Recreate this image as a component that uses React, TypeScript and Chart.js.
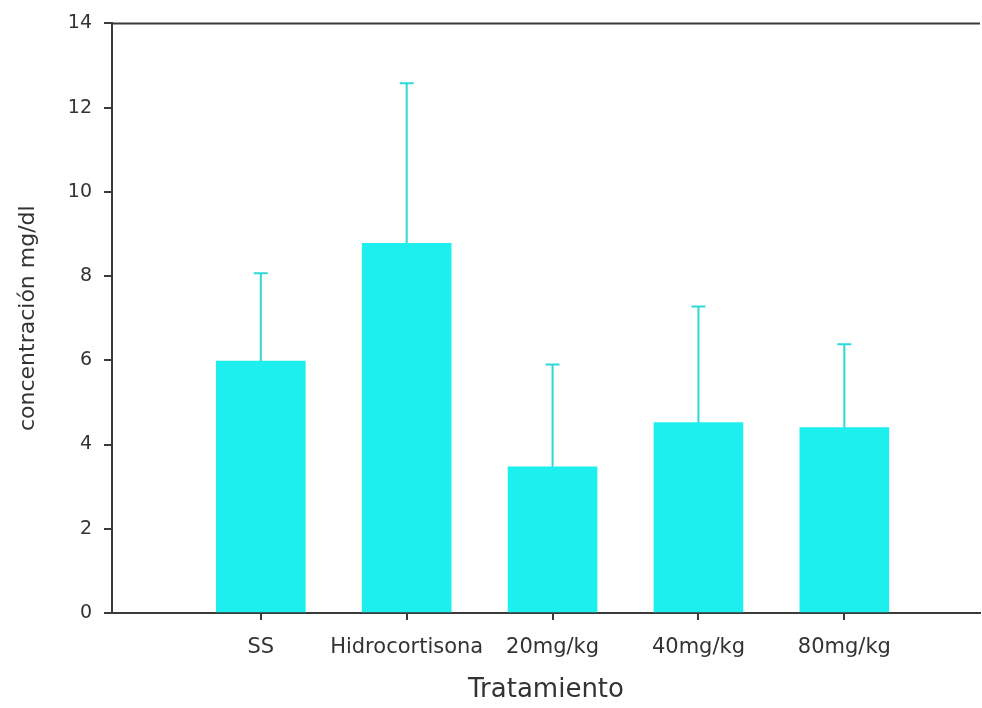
import React, { useEffect, useRef } from "react";
import { Chart, registerables } from "chart.js";

Chart.register(...registerables);

const categories = ["SS", "Hidrocortisona", "20mg/kg", "40mg/kg", "80mg/kg"];
const means = [5.98, 8.78, 3.47, 4.52, 4.4];
const errorsUp = [2.09, 3.8, 2.43, 2.76, 1.98];
const yTicks = [0, 2, 4, 6, 8, 10, 12, 14];

const BAR_COLOR = "#1DEFEF";
const ERR_COLOR = "#2ED8D8";
const AXIS_COLOR = "#3a3a3a";
const FONT = "'DejaVu Sans', Arial, sans-serif";

const errorBarPlugin = {
  id: "errorBars",
  afterDatasetsDraw(chart: any) {
    const ctx = chart.ctx;
    const meta = chart.getDatasetMeta(0);
    const ys = chart.scales.y;
    ctx.save();
    ctx.strokeStyle = ERR_COLOR;
    ctx.lineWidth = 2;
    meta.data.forEach((bar: any, i: number) => {
      const x = bar.x;
      const top = ys.getPixelForValue(means[i] + errorsUp[i]);
      ctx.beginPath();
      ctx.moveTo(x, bar.y);
      ctx.lineTo(x, top);
      ctx.moveTo(x - 7, top);
      ctx.lineTo(x + 7, top);
      ctx.stroke();
    });
    ctx.restore();
  },
};

const topBorderPlugin = {
  id: "topBorder",
  afterDraw(chart: any) {
    const { ctx, chartArea } = chart;
    ctx.save();
    ctx.strokeStyle = AXIS_COLOR;
    ctx.lineWidth = 2;
    ctx.beginPath();
    ctx.moveTo(chartArea.left - 1, chartArea.top);
    ctx.lineTo(chartArea.right, chartArea.top);
    ctx.stroke();
    ctx.restore();
  },
};

export default function App() {
  const ref = useRef<HTMLCanvasElement>(null);
  useEffect(() => {
    if (!ref.current) return;
    const chart = new Chart(ref.current, {
      type: "bar",
      data: {
        datasets: [
          {
            data: means.map((v, i) => ({ x: i, y: v })),
            backgroundColor: BAR_COLOR,
            borderWidth: 0,
            barThickness: 89,
          },
        ],
      },
      options: {
        animation: false,
        responsive: true,
        maintainAspectRatio: false,
        layout: { padding: { top: 20, right: 2, left: 0, bottom: 0 } },
        plugins: { legend: { display: false }, tooltip: { enabled: false } },
        scales: {
          x: {
            type: "linear",
            offset: false,
            min: -1.02,
            max: 4.93,
            afterBuildTicks: (scale: any) => {
              scale.ticks = categories.map((_, i) => ({ value: i }));
            },
            afterFit: (scale: any) => {
              scale.height = 95;
            },
            grid: {
              offset: false,
              drawOnChartArea: false,
              drawTicks: true,
              tickLength: 7,
              color: AXIS_COLOR,
              lineWidth: 2,
            },
            border: { display: true, color: AXIS_COLOR, width: 2 },
            ticks: {
              padding: 15,
              color: "#333",
              font: { family: FONT, size: 21 },
              maxRotation: 0,
              autoSkip: false,
              callback: (v: any) => categories[v] ?? "",
            },
            title: {
              display: true,
              text: "Tratamiento",
              color: "#333",
              font: { family: FONT, size: 26 },
              padding: { top: 4, bottom: 2 },
            },
          },
          y: {
            min: 0,
            max: 14,
            afterBuildTicks: (scale: any) => {
              scale.ticks = yTicks.map((v) => ({ value: v }));
            },
            afterFit: (scale: any) => {
              scale.width = 112;
            },
            grid: {
              drawOnChartArea: false,
              drawTicks: true,
              tickLength: 8,
              color: AXIS_COLOR,
              lineWidth: 2,
            },
            border: { display: true, color: AXIS_COLOR, width: 2 },
            ticks: {
              padding: 12,
              color: "#333",
              font: { family: FONT, size: 19 },
            },
            title: {
              display: true,
              text: "concentración mg/dl",
              color: "#333",
              font: { family: FONT, size: 22 },
              padding: { top: 15, bottom: 0 },
            },
          },
        },
      },
      plugins: [errorBarPlugin, topBorderPlugin],
    });
    return () => chart.destroy();
  }, []);
  return (
    <div style={{ position: "absolute", left: 0, top: 0, width: 982, height: 708, background: "#fff" }}>
      <canvas ref={ref} />
    </div>
  );
}
